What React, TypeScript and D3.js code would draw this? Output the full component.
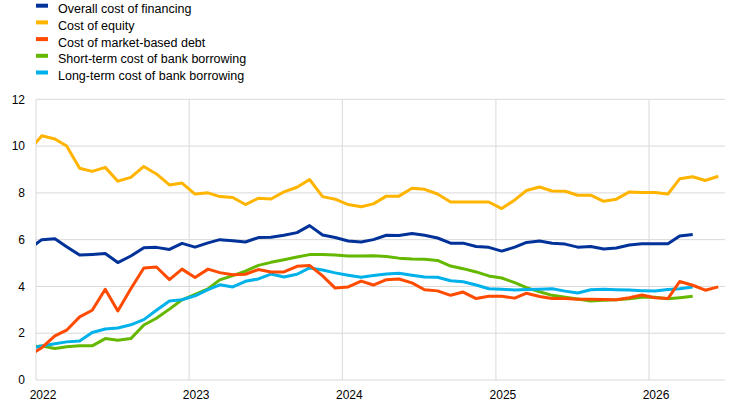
import React from 'react';
import * as d3 from 'd3';

// monthly observations, Dec 2021 .. Jun 2026 (mid-month)
const firstMonth = new Date(2021, 11, 15);

const overallCost = [
  5.6,
  6.0, 6.04, 5.7, 5.34, 5.37, 5.41, 5.02, 5.3, 5.65, 5.67, 5.58, 5.84,
  5.68, 5.86, 6.0, 5.95, 5.9, 6.09, 6.1, 6.19, 6.3, 6.6, 6.2, 6.09,
  5.94, 5.9, 6.0, 6.19, 6.18, 6.26, 6.19, 6.07, 5.85, 5.85, 5.71, 5.67,
  5.51, 5.68, 5.88, 5.94, 5.85, 5.81, 5.68, 5.71, 5.6, 5.64, 5.77, 5.82,
  5.82, 5.82, 6.16, 6.22, null, null,
];

const costOfEquity = [
  9.8,
  10.44, 10.3, 10.0, 9.05, 8.92, 9.09, 8.5, 8.66, 9.13, 8.81, 8.34, 8.42,
  7.95, 8.0, 7.84, 7.8, 7.5, 7.77, 7.74, 8.04, 8.24, 8.57, 7.84, 7.73,
  7.5, 7.41, 7.53, 7.86, 7.86, 8.2, 8.15, 7.95, 7.61, 7.61, 7.61, 7.61,
  7.33, 7.7, 8.1, 8.25, 8.08, 8.07, 7.9, 7.9, 7.64, 7.73, 8.04, 8.02,
  8.02, 7.95, 8.6, 8.69, 8.53, 8.71,
];

const marketDebt = [
  1.05,
  1.38, 1.89, 2.13, 2.7, 2.98, 3.88, 2.95, 3.9, 4.79, 4.83, 4.29, 4.74,
  4.38, 4.74, 4.59, 4.5, 4.52, 4.72, 4.62, 4.62, 4.86, 4.9, 4.45, 3.93,
  3.98, 4.23, 4.06, 4.29, 4.32, 4.15, 3.86, 3.81, 3.62, 3.76, 3.48, 3.58,
  3.58, 3.5, 3.71, 3.57, 3.48, 3.48, 3.45, 3.45, 3.44, 3.43, 3.52, 3.63,
  3.52, 3.48, 4.21, 4.05, 3.84, 3.98,
];

const shortTermBank = [
  1.4,
  1.45, 1.35, 1.42, 1.46, 1.46, 1.77, 1.7, 1.77, 2.35, 2.64, 3.03, 3.43,
  3.66, 3.9, 4.28, 4.46, 4.65, 4.9, 5.03, 5.14, 5.26, 5.36, 5.36, 5.34,
  5.3, 5.3, 5.31, 5.28, 5.21, 5.17, 5.16, 5.11, 4.87, 4.76, 4.62, 4.45,
  4.36, 4.16, 3.95, 3.77, 3.62, 3.54, 3.46, 3.38, 3.41, 3.43, 3.47, 3.54,
  3.54, 3.47, 3.52, 3.58, null, null,
];

const longTermBank = [
  1.35,
  1.45, 1.55, 1.63, 1.67, 2.03, 2.18, 2.22, 2.36, 2.58, 2.98, 3.38, 3.43,
  3.6, 3.86, 4.07, 3.98, 4.22, 4.32, 4.53, 4.4, 4.52, 4.79, 4.7, 4.58,
  4.48, 4.39, 4.47, 4.53, 4.56, 4.48, 4.4, 4.39, 4.24, 4.2, 4.06, 3.9,
  3.88, 3.85, 3.87, 3.88, 3.9, 3.8, 3.72, 3.86, 3.88, 3.86, 3.85, 3.82,
  3.8, 3.87, 3.9, 3.98, null, null,
];

const seriesNames = [
  'Overall cost of financing',
  'Cost of equity',
  'Cost of market-based debt',
  'Short-term cost of bank borrowing',
  'Long-term cost of bank borrowing',
];
const seriesColors = ['#003299', '#ffb400', '#ff4b00', '#65b800', '#00b1ea'];
const seriesValues = [overallCost, costOfEquity, marketDebt, shortTermBank, longTermBank];
// drawing order: bank rates first, then debt, overall, equity on top
const drawOrder = [3, 4, 2, 0, 1];

const yTicks = [0, 2, 4, 6, 8, 10, 12];
const yearTicks = [2022, 2023, 2024, 2025, 2026];

const width = 742;
const height = 405;
const plot = { left: 36, right: 725, top: 99.3, bottom: 380 };

export default function App() {
  const x = d3.scaleTime()
    .domain([new Date(2022, 0, 1), new Date(2026, 6, 1)])
    .range([plot.left, plot.right]);
  const y = d3.scaleLinear().domain([0, 12]).range([plot.bottom, plot.top]);

  const dates = overallCost.map((_, i) => d3.timeMonth.offset(firstMonth, i));

  const line = d3.line<number | null>()
    .defined(d => d !== null)
    .x((_, i) => x(dates[i]))
    .y(d => y(d as number));

  const font = '"Liberation Sans", Arial, sans-serif';

  return (
    <svg width={width} height={height} style={{ position: 'fixed', left: 0, top: 0, background: '#fff' }}
      fontFamily={font}>
      <defs>
        <clipPath id="plotClip">
          <rect x={plot.left} y={0} width={plot.right - plot.left} height={plot.bottom + 5} />
        </clipPath>
      </defs>

      {/* legend */}
      {seriesNames.map((name, i) => (
        <g key={name} transform={`translate(36,${13.3 + i * 16.7})`}>
          <rect x={0} y={-9.6} width={12} height={4} fill={seriesColors[i]} />
          <text x={22} y={0} fontSize={12.5} fill="#000">{name}</text>
        </g>
      ))}

      {/* grid */}
      {yTicks.map(t => (
        <g key={t}>
          <line x1={plot.left} x2={plot.right} y1={y(t)} y2={y(t)} stroke="#d9d9d9" strokeWidth={1} />
          <text x={25} y={y(t)} dy="0.35em" textAnchor="end" fontSize={12} fill="#000">{t}</text>
        </g>
      ))}
      {yearTicks.map(yr => {
        const px = x(new Date(yr, 0, 1));
        return (
          <g key={yr}>
            <line x1={px} x2={px} y1={plot.top} y2={plot.bottom} stroke="#d9d9d9" strokeWidth={1} />
            <text x={px + 7} y={399} textAnchor="middle" fontSize={12} fill="#000">{yr}</text>
          </g>
        );
      })}

      {/* lines */}
      <g clipPath="url(#plotClip)">
        {drawOrder.map(i => (
          <path key={seriesNames[i]} d={line(seriesValues[i]) || ''} fill="none"
            stroke={seriesColors[i]} strokeWidth={3} strokeLinejoin="round" />
        ))}
      </g>
    </svg>
  );
}
